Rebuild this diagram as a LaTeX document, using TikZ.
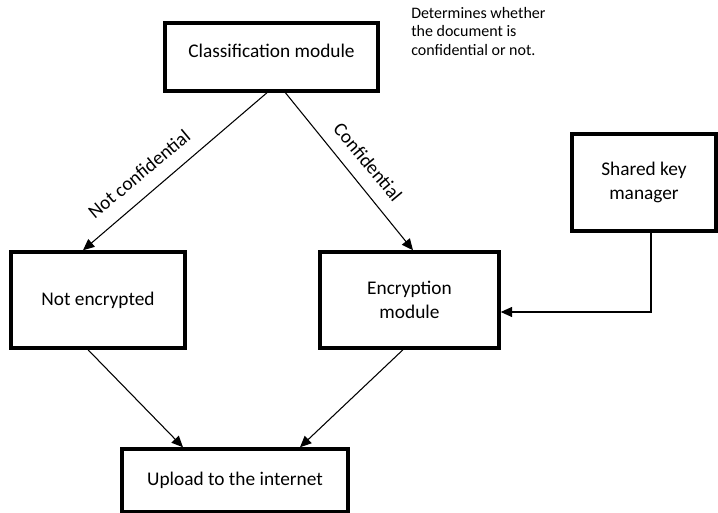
\documentclass[tikz,border=0pt]{standalone}
\usepackage{fontspec}
\setmainfont{Carlito}
\usetikzlibrary{arrows.meta}
\begin{document}
\begin{tikzpicture}[x=0.75pt,y=-0.75pt,
  box/.style={draw,line width=2.6pt,rectangle,align=center,font=\fontsize{14.5}{18.5}\selectfont,inner sep=0pt},
  conn/.style={line width=0.8pt,-{Triangle[length=8.5pt,width=7.5pt]}},
  lbl/.style={font=\fontsize{14.5}{17}\selectfont,inner sep=0pt}]
\useasboundingbox (0,0) rectangle (718,513);
\node[box,minimum width=159.75pt,minimum height=51pt,text height=10pt,text depth=9.3pt] (cls) at (271.5,57) {Classification module};
\node[box,minimum width=130.5pt,minimum height=72pt] (ne) at (98,300) {Not encrypted};
\node[box,minimum width=134.25pt,minimum height=72pt] (enc) at (409.5,300) {Encryption\\module};
\node[box,minimum width=108pt,minimum height=72.75pt] (skm) at (644,182.5) {Shared key\\manager};
\node[box,minimum width=169.5pt,minimum height=47.25pt] (up) at (235,480.5) {Upload to the internet};
\node[anchor=north west,align=left,inner sep=0pt,font=\fontsize{12}{13.8}\selectfont] (note) at (411,7) {Determines whether\\the document is\\confidential or not.};
\coordinate (c1) at (269,91);
\coordinate (c2) at (284,91);
\draw[conn] (c1) -- (ne.north -| 83,0);
\draw[conn] (c2) -- (enc.north -| 413,0);
\node[lbl,rotate=39.8] (l1) at (139,174) {Not confidential};
\node[lbl,rotate=-50.2] (l2) at (368,162) {Confidential};
\draw[conn] (skm.south -| 651,0) |- (enc.east |- 0,312);
\draw[conn] (ne.south -| 88,0) -- (up.north -| 183,0);
\draw[conn] (enc.south -| 403,0) -- (up.north -| 300,0);
\end{tikzpicture}
\end{document}
